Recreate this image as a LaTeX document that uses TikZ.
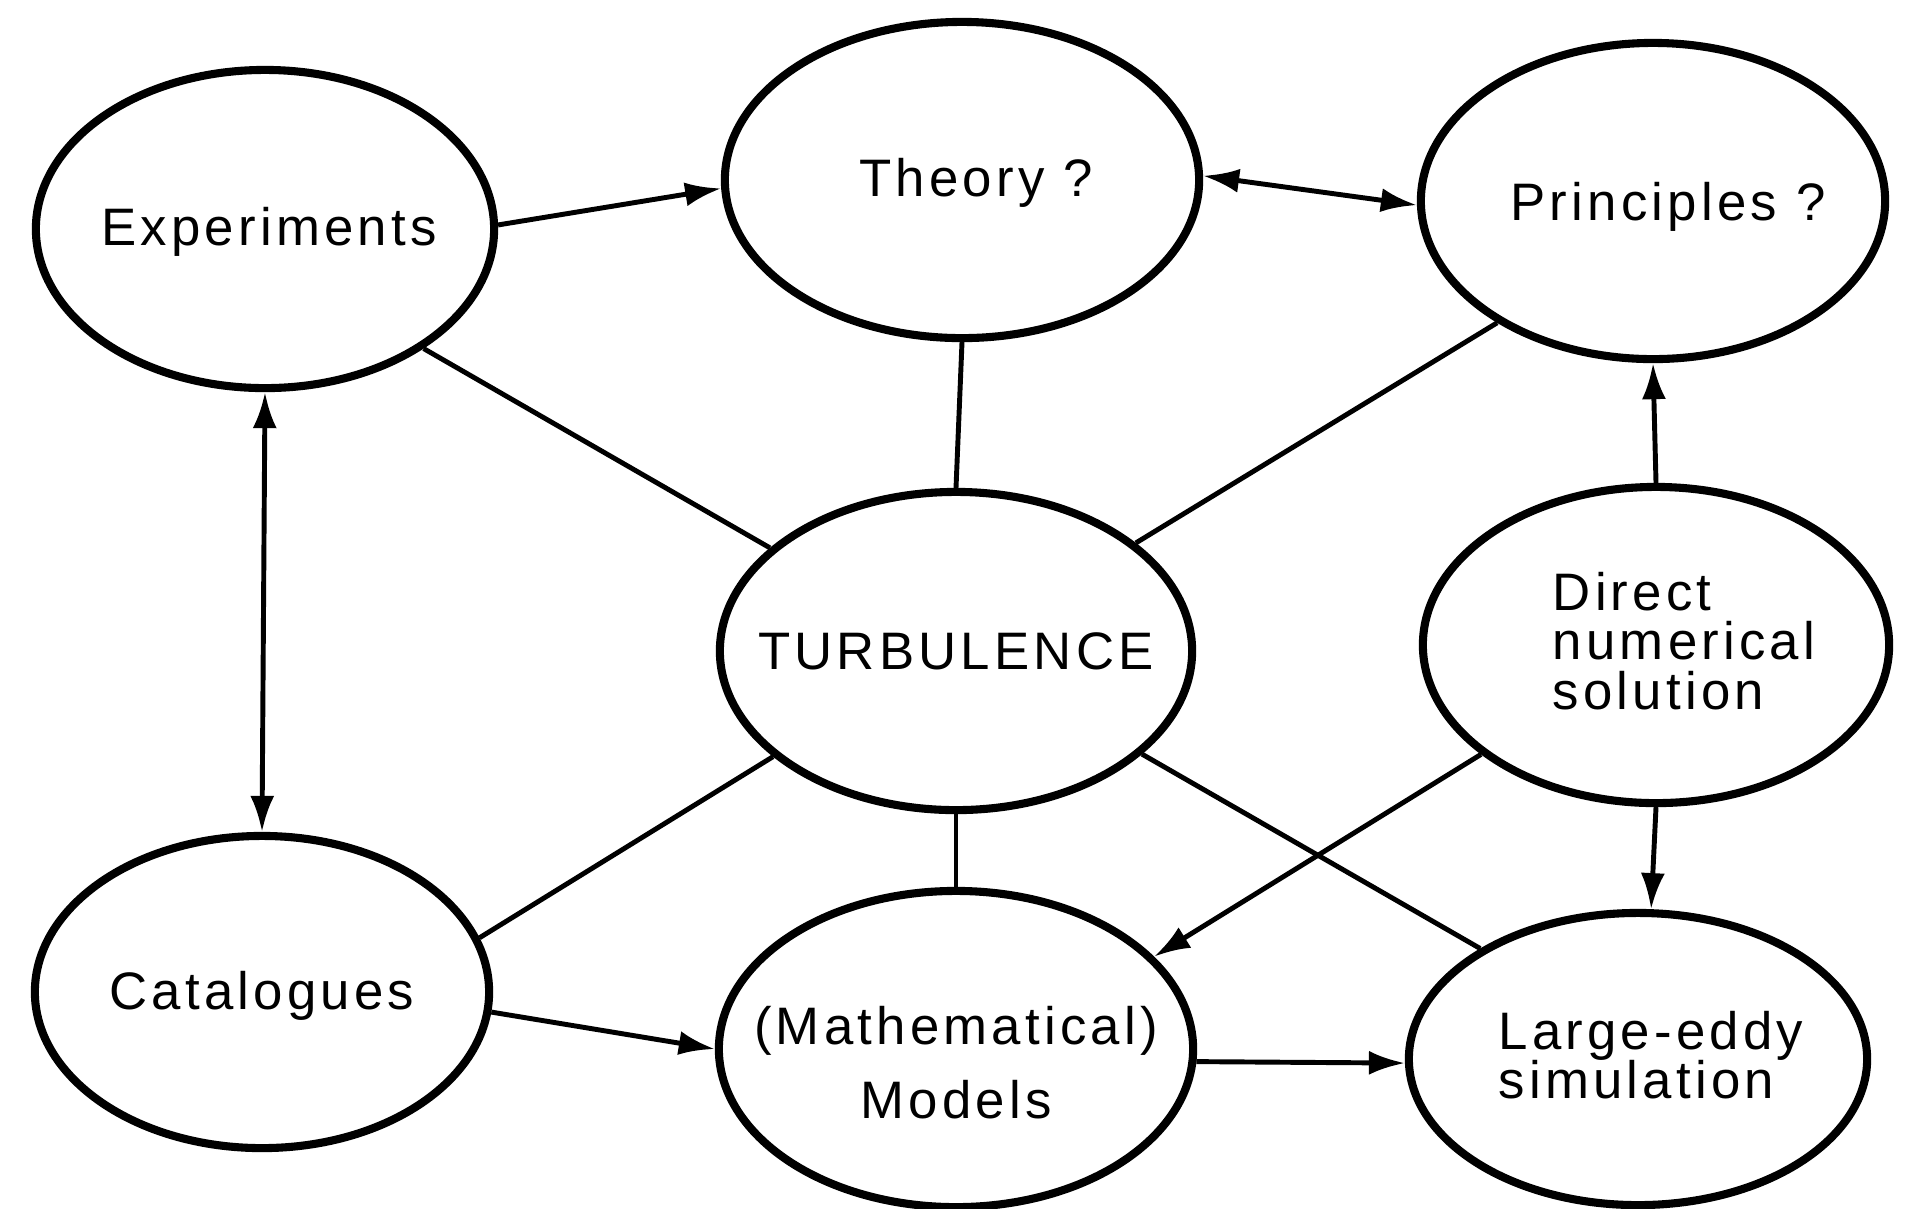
\documentclass[tikz,border=0pt]{standalone}
\usepackage{fontspec}
\setmainfont{Liberation Sans}[LetterSpace=8]
\usetikzlibrary{shapes.geometric,arrows.meta}

\tikzset{
  blob/.style={draw, ellipse, line width=2.3pt, inner sep=0pt},
  word/.style={inner sep=0pt, font=\fontsize{15}{14}\selectfont},
  link/.style={line width=1.4pt},
  tip/.style={link, -{Latex[length=3.6mm,width=2.4mm]}},
  both/.style={link, {Latex[length=3.6mm,width=2.4mm]}-{Latex[length=3.6mm,width=2.4mm]}}
}

\begin{document}
\begin{tikzpicture}[x=0.01cm,y=-0.01cm]
  \useasboundingbox (0,0) rectangle (1909,1208);
  % top row
  \node[blob, minimum width=4.58cm, minimum height=3.18cm] (expt) at (265,229) {};
  \node[blob, minimum width=4.74cm, minimum height=3.16cm] (theory) at (962,180) {};
  \node[blob, minimum width=4.64cm, minimum height=3.16cm] (princ) at (1653,201) {};
  % middle row
  \node[blob, minimum width=4.72cm, minimum height=3.18cm] (turb) at (956,651) {};
  \node[blob, minimum width=4.66cm, minimum height=3.16cm] (dns) at (1656,645) {};
  % bottom row
  \node[blob, minimum width=4.54cm, minimum height=3.12cm] (catal) at (262,992) {};
  \node[blob, minimum width=4.74cm, minimum height=3.16cm] (models) at (956,1049) {};
  \node[blob, minimum width=4.58cm, minimum height=2.92cm] (les) at (1638,1059) {};
  % texts
  \node[word] (expt-t) at ([shift={(4,3)}]expt) {Experiments};
  \node[word] (theory-t) at ([shift={(14,3)}]theory) {Theory ?};
  \node[word] (princ-t) at ([shift={(15,6)}]princ) {Principles ?};
  \node[word] (turb-t) at (turb) {TURBULENCE};
  \node[word, align=left] (dns-t) at ([shift={(28,-4)}]dns) {Direct\\numerical\\solution};
  \node[word] (catal-t) at ([shift={(0,4)}]catal) {Catalogues};
  \node[word, align=center] (models-t) at ([shift={(0,14)}]models) {(Mathematical)\\[7pt]Models};
  \node[word, align=left] (les-t) at ([shift={(13,-4)}]les) {Large-eddy\\simulation};
  %
  \draw[tip]  (expt.1.5) -- (theory.182);
  \draw[both] (theory.1.5) -- (princ.181.5);
  \draw[both] (expt.south) -- (catal.north);
  \draw[tip]  (dns.north) -- (princ.south);
  \draw[tip]  (dns.south) -- (les.85);
  \draw[tip]  (dns.212) -- (models.25);
  \draw[tip]  (catal.-5) -- (models.180);
  \draw[tip]  (models.-3) -- (les.181);
  % spokes from the centre
  \draw[link] (expt.-37) -- (turb.151);
  \draw[link] (theory.south) -- (turb.north);
  \draw[link] (princ.218) -- (turb.31);
  \draw[link] (turb.210) -- (catal.14);
  \draw[link] (turb.south) -- (models.north);
  \draw[link] (turb.331) -- (les.145);
\end{tikzpicture}
\end{document}
